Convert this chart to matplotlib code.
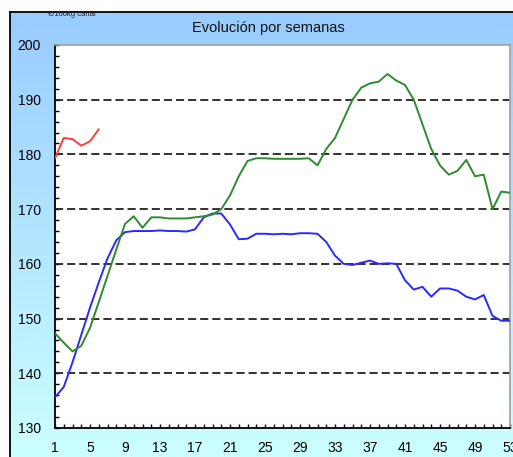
import numpy as np
import matplotlib
matplotlib.use("Agg")
import matplotlib.pyplot as plt
from matplotlib.ticker import MultipleLocator, FixedLocator
from matplotlib.lines import Line2D

plt.rcParams['font.family'] = ['Liberation Sans', 'DejaVu Sans']

title = "Evolución por semanas"
unit_label = "€/100kg canal"

weeks_red = list(range(1, 7))
red = [179.3, 183.0, 182.8, 181.6, 182.4, 184.6]

weeks = list(range(1, 54))
blue = [135.6, 137.5, 142.0, 147.0, 152.0, 156.6, 161.0, 164.3, 165.8, 166.0,
        166.0, 166.0, 166.1, 166.0, 166.0, 165.9, 166.3, 168.5, 169.2, 169.2,
        167.2, 164.5, 164.6, 165.5, 165.5, 165.4, 165.5, 165.4, 165.6, 165.6,
        165.5, 164.0, 161.5, 160.0, 159.8, 160.2, 160.6, 160.0, 160.1, 160.0,
        157.0, 155.3, 155.8, 154.0, 155.5, 155.5, 155.1, 154.0, 153.5, 154.3,
        150.5, 149.6, 149.6]
green = [147.3, 145.6, 144.0, 145.0, 148.3, 153.0, 157.8, 162.6, 167.3, 168.7,
         166.6, 168.5, 168.5, 168.3, 168.3, 168.3, 168.5, 168.7, 169.0, 170.0,
         172.5, 176.0, 178.8, 179.3, 179.3, 179.2, 179.2, 179.2, 179.2, 179.3,
         178.0, 181.0, 183.0, 186.5, 190.0, 192.2, 193.0, 193.3, 194.7, 193.5,
         192.7, 190.0, 185.5, 181.0, 178.0, 176.3, 177.0, 179.0, 176.0, 176.3,
         170.0, 173.2, 173.0]

xtick_labels = list(range(1, 54, 4))
ytick_labels = list(range(130, 201, 10))

W, H = 513, 457
fig = plt.figure(figsize=(W / 100, H / 100), dpi=100)
fig.patch.set_facecolor('white')

# gradient background
bg = fig.add_axes([10 / W, 0, 1 - 10 / W, 1 - 12 / H], zorder=-5)
grad = np.linspace(0, 1, 256)[:, None]
c_top = np.array([153, 204, 255]) / 255
c_bot = np.array([204, 255, 255]) / 255
img = c_top[None, None, :] * (1 - grad[:, :, None]) + c_bot[None, None, :] * grad[:, :, None]
bg.imshow(img, aspect='auto', extent=[0, 1, 0, 1])
bg.set_xlim(0, 1)
bg.set_ylim(0, 1)
bg.axis('off')
fig.add_artist(Line2D([10 / W, 10 / W], [0, 1 - 12 / H], color='black', lw=1.3, transform=fig.transFigure))
fig.add_artist(Line2D([10 / W, 1], [1 - 12 / H, 1 - 12 / H], color='black', lw=1.3, transform=fig.transFigure))

ax = fig.add_axes([55 / W, 29 / H, 455 / W, 383 / H])
ax.set_facecolor('white')

ax.plot(weeks, blue, color='#2a2aff', lw=1.4, solid_capstyle='round', solid_joinstyle='round', zorder=3)
ax.plot(weeks, green, color='#2e8b2e', lw=1.4, solid_capstyle='round', solid_joinstyle='round', zorder=3)
ax.plot(weeks_red, red, color='#ff3b3b', lw=1.4, solid_capstyle='round', solid_joinstyle='round', zorder=3)

ax.set_xlim(1, 53)
ax.set_ylim(130, 200)
ax.xaxis.set_major_locator(FixedLocator(xtick_labels))
ax.set_xticklabels([str(v) for v in xtick_labels])
ax.xaxis.set_minor_locator(MultipleLocator(1))
ax.yaxis.set_major_locator(FixedLocator(ytick_labels))
ax.yaxis.set_minor_locator(MultipleLocator(2))

for v in ytick_labels[1:-1]:
    ax.axhline(v, color='#222222', lw=1.3, linestyle=(0, (4.5, 2.2)), zorder=2)

ax.tick_params(axis='both', which='both', direction='in', length=3, width=1, color='black')
ax.tick_params(axis='y', which='major', pad=10, labelsize=10)
ax.tick_params(axis='x', which='major', pad=9, labelsize=10)
ax.tick_params(axis='both', which='both', top=False, right=False)

for s in ['left', 'bottom']:
    ax.spines[s].set_color('black')
    ax.spines[s].set_linewidth(1.3)
for s in ['top', 'right']:
    ax.spines[s].set_color('#a0a0a0')
    ax.spines[s].set_linewidth(1.2)

fig.text(268 / W, 1 - 28 / H, title, ha='center', va='center', fontsize=10.5, color='#111111')
fig.text(72 / W, 1 - 15 / H, unit_label, ha='center', va='center', fontsize=5.5, color='#222222')

fig.savefig('out.png', dpi=100)
